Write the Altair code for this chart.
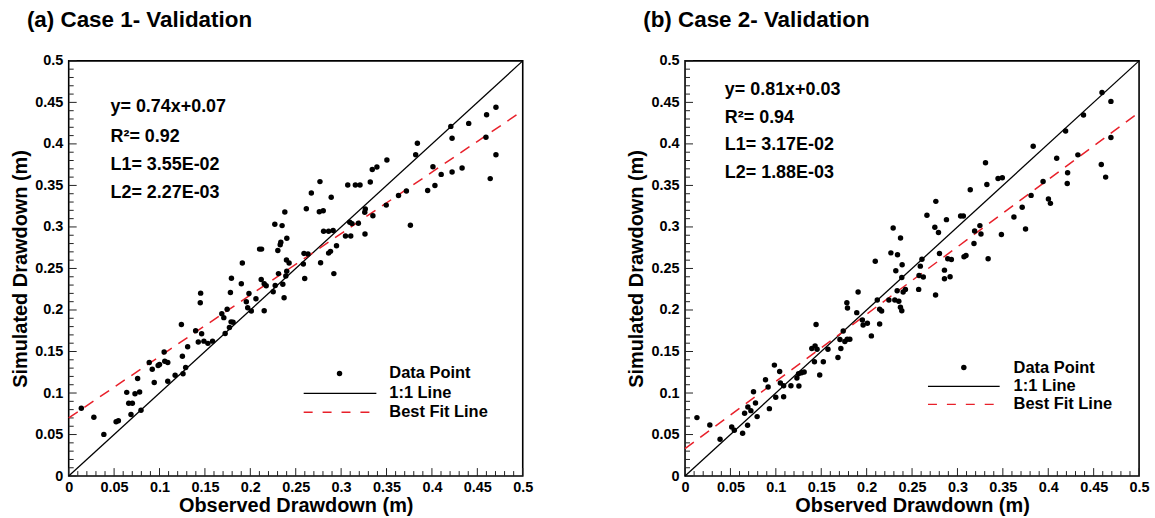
import altair as alt
import pandas as pd

# ---------------- data ----------------
case1_obs = [0.0139,0.0277,0.0387,0.0522,0.0547,0.0639,0.0661,0.0701,0.0686,0.0730,0.0781,0.0759,0.0796,0.0887,0.0920,0.0942,0.0985,0.1000,0.1051,0.1058,0.1091,0.1091,0.1172,0.1241,0.1252,0.1259,0.1288,0.1310,0.1398,0.1427,0.1449,0.1453,0.1464,0.1489,0.1533,0.1584,0.1686,0.1708,0.1723,0.1745,0.1770,0.1781,0.1788,0.1810,0.1792,0.1912,0.1901,0.1956,0.1971,0.1985,0.2011,0.2062,0.2120,0.2153,0.2153,0.2175,0.2252,0.2274,0.2310,0.2358,0.2372,0.2391,0.2401,0.2398,0.2427,
             0.3343,0.3394,0.2767,0.3073,0.3157,0.3208,0.3321,0.2672,0.2891,0.2617,0.2760,0.2803,0.2380,0.3266,0.2270,0.2350,0.3350,0.3095,0.3120,0.2807,0.2862,0.2912,0.3048,0.3106,0.3263,0.2402,0.2336,0.2329,0.2102,0.2124,0.2303,0.2949,0.2883,0.2862,0.2591,0.2635,0.2774,0.2584,0.2920,0.2599,
             0.4705,0.4602,0.4405,0.4208,0.4222,0.4595,0.4705,0.3840,0.3821,0.3504,0.4011,0.4102,0.4222,0.4332,0.4642,0.3953,0.4033,0.3719,0.3632,0.3763,0.3497,0.3260,0.3190]
case1_sim = [0.0817,0.0709,0.0502,0.0653,0.0665,0.1008,0.0876,0.0876,0.0741,0.0992,0.1012,0.1175,0.0793,0.1367,0.1287,0.1127,0.1331,0.1343,0.1494,0.1382,0.1367,0.1143,0.1215,0.1825,0.1442,0.1231,0.1307,0.1558,0.1749,0.1614,0.2088,0.2203,0.1713,0.1625,0.1598,0.1625,0.1956,0.1908,0.1717,0.2008,0.1789,0.2211,0.1857,0.1853,0.2382,0.2566,0.2315,0.2100,0.2028,0.2199,0.1988,0.2135,0.2367,0.1992,0.2315,0.2291,0.2219,0.2295,0.2438,0.2311,0.2147,0.2410,0.2466,0.2602,0.2566,
             0.3693,0.3721,0.3546,0.3506,0.3506,0.3506,0.3542,0.3410,0.3358,0.3219,0.3183,0.3195,0.3179,0.3215,0.3032,0.3016,0.3136,0.3056,0.3040,0.2948,0.2948,0.2956,0.2892,0.2892,0.2916,0.2865,0.2817,0.2785,0.2733,0.2733,0.2717,0.2773,0.2706,0.2685,0.2681,0.2673,0.2570,0.2554,0.2438,0.2378,
             0.4441,0.4351,0.4247,0.4211,0.4067,0.4080,0.3869,0.4008,0.3869,0.3805,0.3725,0.3633,0.3661,0.3709,0.3582,0.3438,0.3498,0.3434,0.3379,0.3020,0.3263,0.3178,0.3044]

case2_obs = [0.0131,0.0273,0.0386,0.0514,0.0543,0.0634,0.0656,0.0692,0.0689,0.0725,0.0754,0.0776,0.0794,0.0886,0.0915,0.0929,0.0984,0.0999,0.1042,0.1050,0.1086,0.1086,0.1166,0.1254,0.1232,0.1250,0.1283,0.1312,0.1396,0.1425,0.1432,0.1443,0.1483,0.1454,0.1523,0.1574,0.1684,0.1706,0.1716,0.1742,0.1760,0.1782,0.1789,0.1786,0.1815,0.1891,0.1906,0.1953,0.1961,0.2008,0.2052,0.2095,0.2117,0.2143,0.2143,0.2165,0.2245,0.2267,0.2310,0.2321,0.2340,0.2336,0.2354,0.2372,0.2387,0.2391,0.2387,0.2402,0.2427,0.2573,
             0.3309,0.3324,0.3141,0.2762,0.2664,0.2879,0.3035,0.3065,0.2751,0.2791,0.2292,0.2373,0.3247,0.3189,0.3259,0.3182,0.2609,0.2802,0.2893,0.2933,0.3072,0.3094,0.3338,0.2591,0.2577,0.2624,0.2857,0.2919,0.2857,0.2759,
             0.4592,0.4690,0.4388,0.4191,0.4690,0.3834,0.4093,0.4326,0.4584,0.4632,0.4213,0.4209,0.3943,0.3811,0.4002,0.4024,0.3713,0.3622,0.3750,0.3484,0.3447,0.3494]
case2_sim = [0.0704,0.0616,0.0444,0.0592,0.0552,0.0516,0.0756,0.0832,0.0612,0.0788,0.1016,0.0880,0.0716,0.1160,0.1072,0.0812,0.1336,0.0948,0.1260,0.1120,0.1088,0.0956,0.1088,0.1084,0.1180,0.1232,0.1244,0.1252,0.1536,0.1376,0.1568,0.1824,0.1216,0.1528,0.1376,0.1528,0.1428,0.1644,0.1536,0.1748,0.1620,0.2088,0.2024,0.1648,0.1648,0.1968,0.2216,0.1880,0.1820,0.1840,0.1688,0.2588,0.2120,0.2008,0.1832,0.1988,0.2120,0.2688,0.2120,0.2472,0.2664,0.2232,0.2104,0.2032,0.1992,0.2544,0.2392,0.2216,0.2248,0.2248,
             0.3772,0.3512,0.3448,0.3308,0.3140,0.3088,0.3132,0.3132,0.2996,0.2932,0.2988,0.2868,0.3016,0.2952,0.2916,0.2800,0.2612,0.2680,0.2616,0.2608,0.2640,0.2656,0.2616,0.2528,0.2416,0.2396,0.2480,0.2400,0.2376,0.2180,
             0.4620,0.4512,0.4348,0.4156,0.4076,0.3972,0.3828,0.3868,0.3752,0.3600,0.3652,0.3524,0.3548,0.3380,0.3336,0.3284,0.3236,0.3120,0.2976,0.2908,0.3584,0.3592]

fit1 = (0.74, 0.07)
fit2 = (0.81, 0.033)
notes1 = ["y= 0.74x+0.07", "R\u00b2= 0.92", "L1= 3.55E-02", "L2= 2.27E-03"]
notes2 = ["y= 0.81x+0.03", "R\u00b2= 0.94", "L1= 3.17E-02", "L2= 1.88E-03"]
major_ticks = [0, 0.05, 0.1, 0.15, 0.2, 0.25, 0.3, 0.35, 0.4, 0.45, 0.5]
minor_ticks = [0.01,0.02,0.03,0.04,0.06,0.07,0.08,0.09,0.11,0.12,0.13,0.14,0.16,0.17,0.18,0.19,
               0.21,0.22,0.23,0.24,0.26,0.27,0.28,0.29,0.31,0.32,0.33,0.34,0.36,0.37,0.38,0.39,
               0.41,0.42,0.43,0.44,0.46,0.47,0.48,0.49]
line_ends = [0.0, 0.5]

FONT = "Liberation Sans"
W, H = 456, 417
RED = "#e8202a"


def panel(obs, sim, fit, notes, note_x, note_ys, leg, title):
    sx = alt.Scale(domain=[0, 0.5], nice=False, zero=False)
    sy = alt.Scale(domain=[0, 0.5], nice=False, zero=False)
    common = dict(values=major_ticks, format="~g", ticks=False, domain=False, grid=False,
                  labelFont=FONT, labelFontWeight="bold", labelFontSize=14.5, labelColor="black",
                  labelFlush=False, labelOverlap=False,
                  titleFont=FONT, titleFontWeight="bold", titleFontSize=20, titleColor="black")
    xaxis = alt.Axis(title="Observed Drawdown (m)", labelPadding=4, titlePadding=2, **common)
    yaxis = alt.Axis(title="Simulated Drawdown (m)", labelPadding=6, titlePadding=4, **common)

    df = pd.DataFrame({"obs": obs, "sim": sim})
    pts = alt.Chart(df).mark_circle(size=30, color="black", opacity=1).encode(
        x=alt.X("obs:Q", scale=sx, axis=xaxis),
        y=alt.Y("sim:Q", scale=sy, axis=yaxis),
    )
    one = pd.DataFrame({"x": line_ends, "y": line_ends})
    l11 = alt.Chart(one).mark_line(color="black", strokeWidth=1.3).encode(
        x=alt.X("x:Q", scale=sx), y=alt.Y("y:Q", scale=sy))
    fdf = pd.DataFrame({"x": line_ends, "y": [fit[0] * v + fit[1] for v in line_ends]})
    lfit = alt.Chart(fdf).mark_line(color=RED, strokeWidth=1.5, strokeDash=[11, 8]).encode(
        x=alt.X("x:Q", scale=sx), y=alt.Y("y:Q", scale=sy))

    mj = pd.DataFrame({"v": major_ticks})
    mn = pd.DataFrame({"v": minor_ticks})
    tk = dict(color="#222222", strokeWidth=1)
    xmaj = alt.Chart(mj).mark_rule(**tk).encode(x=alt.X("v:Q", scale=sx), y=alt.value(H), y2=alt.value(H - 8))
    xmin = alt.Chart(mn).mark_rule(**tk).encode(x=alt.X("v:Q", scale=sx), y=alt.value(H), y2=alt.value(H - 5))
    ymaj = alt.Chart(mj).mark_rule(**tk).encode(y=alt.Y("v:Q", scale=sy), x=alt.value(0), x2=alt.value(8))
    ymin = alt.Chart(mn).mark_rule(**tk).encode(y=alt.Y("v:Q", scale=sy), x=alt.value(0), x2=alt.value(5))

    layers = [xmin, xmaj, ymin, ymaj, l11, lfit, pts]
    for t, yy in zip(notes, note_ys):
        layers.append(alt.Chart(pd.DataFrame({"t": [t]})).mark_text(
            align="left", baseline="middle", font=FONT, fontWeight="bold", fontSize=18, color="black"
        ).encode(x=alt.value(note_x), y=alt.value(yy), text="t:N"))

    dotx, doty, tx, lx1, lx2, ly1, ly2 = leg
    lab = lambda s, yy: alt.Chart(pd.DataFrame({"t": [s]})).mark_text(
        align="left", baseline="middle", font=FONT, fontWeight="bold", fontSize=16.5, color="black"
    ).encode(x=alt.value(tx), y=alt.value(yy), text="t:N")
    one_row = pd.DataFrame({"k": [0]})
    layers += [
        alt.Chart(one_row).mark_circle(size=30, color="black", opacity=1).encode(x=alt.value(dotx), y=alt.value(doty)),
        lab("Data Point", doty),
        alt.Chart(one_row).mark_rule(color="black", strokeWidth=1.3).encode(
            x=alt.value(lx1), x2=alt.value(lx2), y=alt.value(ly1)),
        lab("1:1 Line", ly1),
        alt.Chart(one_row).mark_rule(color=RED, strokeWidth=1.5, strokeDash=[9, 10]).encode(
            x=alt.value(lx1), x2=alt.value(lx2), y=alt.value(ly2)),
        lab("Best Fit Line", ly2),
    ]
    return alt.layer(*layers).properties(
        width=W, height=H,
        title=alt.TitleParams(title, anchor="start", frame="group", dx=-42, offset=22,
                              font=FONT, fontWeight="bold", fontSize=22.5, color="black"),
    )


left = panel(case1_obs, case1_sim, fit1, notes1, 42, [46, 76, 105, 133],
             (272, 314, 322, 236, 309, 334, 353), "(a) Case 1- Validation")
right = panel(case2_obs, case2_sim, fit2, notes2, 40, [29, 57, 85, 113],
              (280, 308, 330, 244, 316, 327, 345), "(b) Case 2- Validation")

chart = alt.hconcat(left, right, spacing=92).properties(
    padding={"left": 9, "top": 6, "right": 5, "bottom": 3},
    background="white",
).configure_view(stroke="black", strokeWidth=1.6)

chart.save("out.html", embed_options={"renderer": "svg", "actions": False})
